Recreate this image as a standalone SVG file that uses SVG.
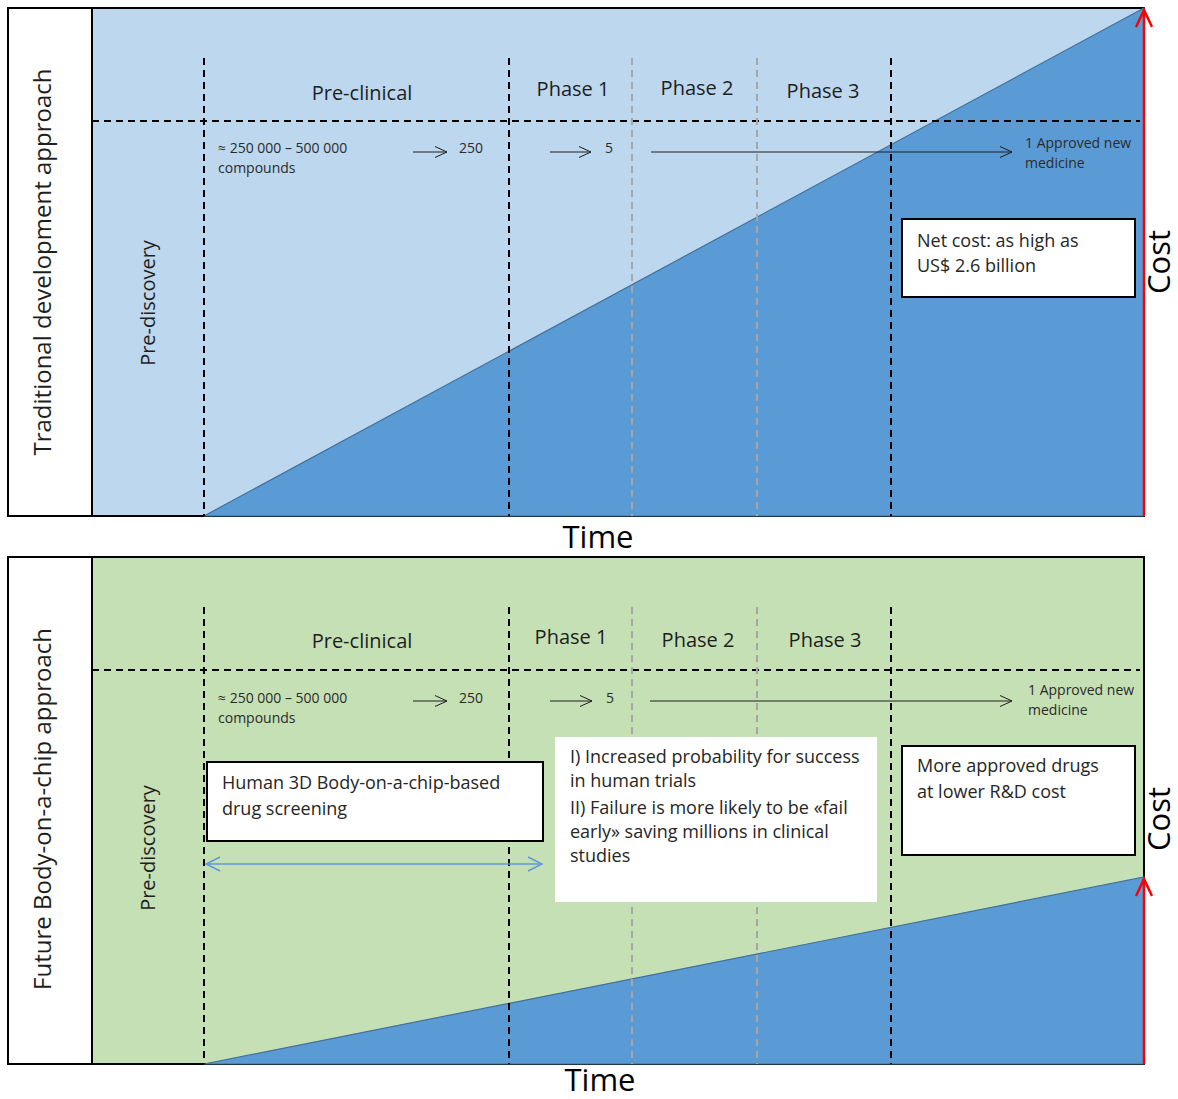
<svg xmlns="http://www.w3.org/2000/svg" width="1178" height="1099" viewBox="0 0 1178 1099">
<style>
text{font-family:"Open Sans","Liberation Sans",sans-serif;fill:#1e1e1e}
.title{font-size:24px}
.pd{font-size:20px}
.ph{font-size:20px;text-anchor:middle}
.sm{font-size:14px;fill:#2b2b2b}
.bx{font-size:18px;fill:#262626}
.ax{font-size:31px;fill:#000}
.dk{stroke:#000;stroke-width:2;stroke-dasharray:7,5;fill:none}
.gy{stroke:#a6a6a6;stroke-width:2;stroke-dasharray:7,5;fill:none}
.arr{stroke:#1e1e1e;stroke-width:1;fill:none;marker-end:url(#chev)}
.box{fill:#fff;stroke:#000;stroke-width:2}
</style>
<defs>
<marker id="chev" viewBox="0 0 14 12" refX="13" refY="6" markerWidth="14" markerHeight="12" markerUnits="userSpaceOnUse" orient="auto">
<path d="M1,0.5 L13,6 L1,11.5" fill="none" stroke="#1e1e1e" stroke-width="1"/>
</marker>
<marker id="red" viewBox="0 0 20 18" refX="18" refY="9" markerWidth="20" markerHeight="18" markerUnits="userSpaceOnUse" orient="auto">
<path d="M1,1 L18,9 L1,17" fill="none" stroke="#ff0000" stroke-width="2.5"/>
</marker>
<marker id="blu" viewBox="0 0 16 16" refX="15" refY="8" markerWidth="16" markerHeight="16" markerUnits="userSpaceOnUse" orient="auto-start-reverse">
<path d="M1,1 L15,8 L1,15" fill="none" stroke="#5b9bd5" stroke-width="1.5"/>
</marker>
</defs>

<!-- Top panel -->
<g id="panel-traditional">
<rect x="8" y="8" width="1136" height="508" fill="#fff" stroke="#000" stroke-width="2"/>
<rect x="92" y="8" width="1052" height="508" fill="#bdd7ee" stroke="#000" stroke-width="2"/>
<polygon points="204,516 1144,8 1144,516" fill="#5b9bd5" stroke="#41719c" stroke-width="1.2"/>
<text class="title" transform="rotate(-90 51 262)" x="51" y="262" text-anchor="middle">Traditional development approach</text>
<text class="pd" transform="rotate(-90 155 303)" x="155" y="303" text-anchor="middle">Pre-discovery</text>
</g>

<g id="grid-top">
<line class="dk" x1="92" y1="121" x2="1140" y2="121"/>
<line class="dk" x1="204" y1="58" x2="204" y2="516"/>
<line class="dk" x1="509" y1="58" x2="509" y2="516"/>
<line class="gy" x1="632" y1="58" x2="632" y2="516"/>
<line class="gy" x1="757" y1="58" x2="757" y2="516"/>
<line class="dk" x1="891" y1="58" x2="891" y2="516"/>
</g>

<g id="labels-top">
<text class="ph" x="362" y="100">Pre-clinical</text>
<text class="ph" x="573" y="96">Phase 1</text>
<text class="ph" x="697" y="95">Phase 2</text>
<text class="ph" x="823" y="98">Phase 3</text>
<text class="sm" x="218" y="153">≈ 250 000 – 500 000</text>
<text class="sm" x="218" y="173">compounds</text>
<text class="sm" x="459" y="153">250</text>
<text class="sm" x="605" y="153">5</text>
<text class="sm" x="1025" y="148">1 Approved new</text>
<text class="sm" x="1025" y="168">medicine</text>
</g>

<g id="box-netcost">
<rect class="box" x="902" y="219" width="233" height="78"/>
<text class="bx" x="917" y="247">Net cost: as high as</text>
<text class="bx" x="917" y="272">US$ 2.6 billion</text>
</g>

<g id="axes-top">
<text class="ax" x="598" y="548" text-anchor="middle">Time</text>
<text class="ax" transform="rotate(-90 1170 262)" x="1170" y="262" text-anchor="middle">Cost</text>
</g>

<!-- Bottom panel -->
<g id="panel-future">
<rect x="8" y="557" width="1136" height="507" fill="#fff" stroke="#000" stroke-width="2"/>
<rect x="92" y="557" width="1052" height="507" fill="#c5e0b4" stroke="#000" stroke-width="2"/>
<polygon points="204,1064 1144,877 1144,1064" fill="#5b9bd5" stroke="#41719c" stroke-width="1.2"/>
<text class="title" transform="rotate(-90 51 809)" x="51" y="809" text-anchor="middle">Future Body-on-a-chip approach</text>
<text class="pd" transform="rotate(-90 155 848)" x="155" y="848" text-anchor="middle">Pre-discovery</text>
</g>

<g id="grid-bottom">
<line class="dk" x1="92" y1="670" x2="1140" y2="670"/>
<line class="dk" x1="204" y1="607" x2="204" y2="1064"/>
<line class="dk" x1="509" y1="607" x2="509" y2="1064"/>
<line class="gy" x1="632" y1="607" x2="632" y2="1064"/>
<line class="gy" x1="757" y1="607" x2="757" y2="1064"/>
<line class="dk" x1="891" y1="607" x2="891" y2="1064"/>
</g>

<g id="labels-bottom">
<text class="ph" x="362" y="648">Pre-clinical</text>
<text class="ph" x="571" y="644">Phase 1</text>
<text class="ph" x="698" y="647">Phase 2</text>
<text class="ph" x="825" y="647">Phase 3</text>
<text class="sm" x="218" y="703">≈ 250 000 – 500 000</text>
<text class="sm" x="218" y="723">compounds</text>
<text class="sm" x="459" y="703">250</text>
<text class="sm" x="606" y="703">5</text>
<text class="sm" x="1028" y="695">1 Approved new</text>
<text class="sm" x="1028" y="715">medicine</text>
</g>

<g id="box-screening">
<rect class="box" x="207" y="762" width="336" height="79"/>
<text class="bx" x="222" y="789">Human 3D Body-on-a-chip-based</text>
<text class="bx" x="222" y="815">drug screening</text>
</g>

<g id="box-benefits">
<rect x="555" y="737" width="322" height="165" fill="#fff"/>
<text class="bx" x="570" y="763">I) Increased probability for success</text>
<text class="bx" x="570" y="787">in human trials</text>
<text class="bx" x="570" y="814">II) Failure is more likely to be «fail</text>
<text class="bx" x="570" y="838">early» saving millions in clinical</text>
<text class="bx" x="570" y="862">studies</text>
</g>

<g id="box-approved">
<rect class="box" x="902" y="746" width="233" height="109"/>
<text class="bx" x="917" y="772">More approved drugs</text>
<text class="bx" x="917" y="798">at lower R&amp;D cost</text>
</g>

<g id="axes-bottom">
<text class="ax" x="600" y="1091" text-anchor="middle">Time</text>
<text class="ax" transform="rotate(-90 1170 819)" x="1170" y="819" text-anchor="middle">Cost</text>
</g>

<!-- Connectors -->
<g id="connectors">
<line class="arr" x1="413" y1="152" x2="447" y2="152"/>
<line class="arr" x1="550" y1="152" x2="591" y2="152"/>
<line class="arr" x1="651" y1="152" x2="1012" y2="152"/>
<line x1="1144" y1="516" x2="1144" y2="10" stroke="#ff0000" stroke-width="2.5" marker-end="url(#red)"/>
<line class="arr" x1="413" y1="701" x2="447" y2="701"/>
<line class="arr" x1="550" y1="701" x2="592" y2="701"/>
<line class="arr" x1="650" y1="701" x2="1012" y2="701"/>
<line x1="206" y1="864" x2="542" y2="864" stroke="#5b9bd5" stroke-width="1.5" marker-start="url(#blu)" marker-end="url(#blu)"/>
<line x1="1144" y1="1064" x2="1144" y2="879" stroke="#ff0000" stroke-width="2.5" marker-end="url(#red)"/>
</g>
</svg>
